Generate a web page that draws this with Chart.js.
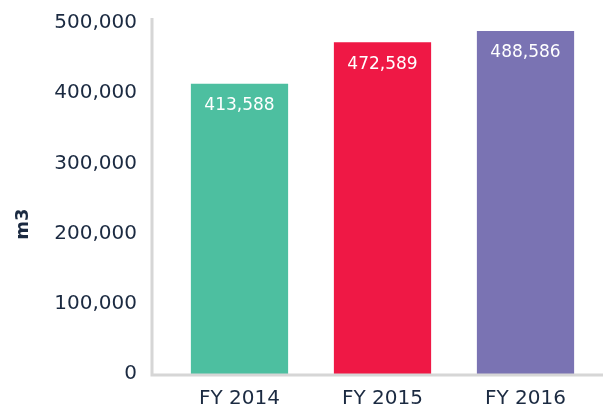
<!DOCTYPE html>
<html>
<head>
<meta charset="utf-8">
<script src="https://cdn.jsdelivr.net/npm/chart.js@4"></script>
<style>
  html, body { margin: 0; padding: 0; background: #fff; }
  #wrap { width: 603px; height: 407px; }
</style>
</head>
<body>
<div id="wrap"><canvas id="chart-water"></canvas></div>
<script>
const categories = ['FY 2014', 'FY 2015', 'FY 2016'];
const volumes = [413588, 472589, 488586];
const barColors = ['#4DBFA0', '#EF1845', '#7A73B3'];
const yTicks = [0, 100000, 200000, 300000, 400000, 500000];
const yTitle = 'm3';

const NAVY = '#1B2A41';
const AXIS_GRAY = '#D6D6D6';
const FONT = 'DejaVu Sans';

// axis lines sit a bit left of the first bar, values go inside the bar tops,
// and the unit title sits lower than the axis middle like the original
const decorations = {
  id: 'decorations',
  afterDatasetsDraw(chart) {
    const { ctx, chartArea } = chart;
    const axisX = chartArea.left - 16;
    ctx.save();
    ctx.strokeStyle = AXIS_GRAY;
    ctx.lineWidth = 3;
    ctx.beginPath();
    ctx.moveTo(axisX, 18);
    ctx.lineTo(axisX, chartArea.bottom + 1);
    ctx.lineTo(chart.width, chartArea.bottom + 1);
    ctx.stroke();

    ctx.fillStyle = '#fff';
    ctx.font = '17px ' + FONT;
    ctx.textAlign = 'center';
    ctx.textBaseline = 'middle';
    chart.getDatasetMeta(0).data.forEach((bar, i) => {
      ctx.fillText(volumes[i].toLocaleString('en-US'), bar.x, bar.y + 22);
    });

    ctx.translate(23, 224);
    ctx.rotate(-Math.PI / 2);
    ctx.fillStyle = NAVY;
    ctx.font = 'bold 18px ' + FONT;
    ctx.fillText(yTitle, 0, 0);
    ctx.restore();
  }
};

new Chart(document.getElementById('chart-water'), {
  type: 'bar',
  plugins: [decorations],
  data: {
    labels: categories,
    datasets: [{
      data: volumes,
      backgroundColor: barColors,
      borderWidth: 0,
      barPercentage: 0.68,
      categoryPercentage: 1,
    }],
  },
  options: {
    responsive: true,
    maintainAspectRatio: false,
    animation: false,
    layout: { padding: { top: 23, right: 6, left: 0, bottom: 0 } },
    plugins: {
      legend: { display: false },
      tooltip: { enabled: false },
    },
    scales: {
      x: {
        grid: { display: false, drawTicks: false },
        border: { display: false },
        ticks: { color: NAVY, font: { family: FONT, size: 20 }, padding: 13 },
        afterFit: (s) => { s.height = 33; },
      },
      y: {
        min: 0,
        max: 500000,
        grid: { display: false, drawTicks: false },
        border: { display: false },
        afterBuildTicks: (s) => { s.ticks = yTicks.map((v) => ({ value: v })); },
        ticks: {
          color: NAVY,
          font: { family: FONT, size: 20 },
          padding: 31,
          callback: (v) => v.toLocaleString('en-US'),
        },
        afterFit: (s) => {
          s.width = 168;
          s.paddingTop = 0;
          s.paddingBottom = 0;
        },
      },
    },
  },
});
</script>
</body>
</html>
